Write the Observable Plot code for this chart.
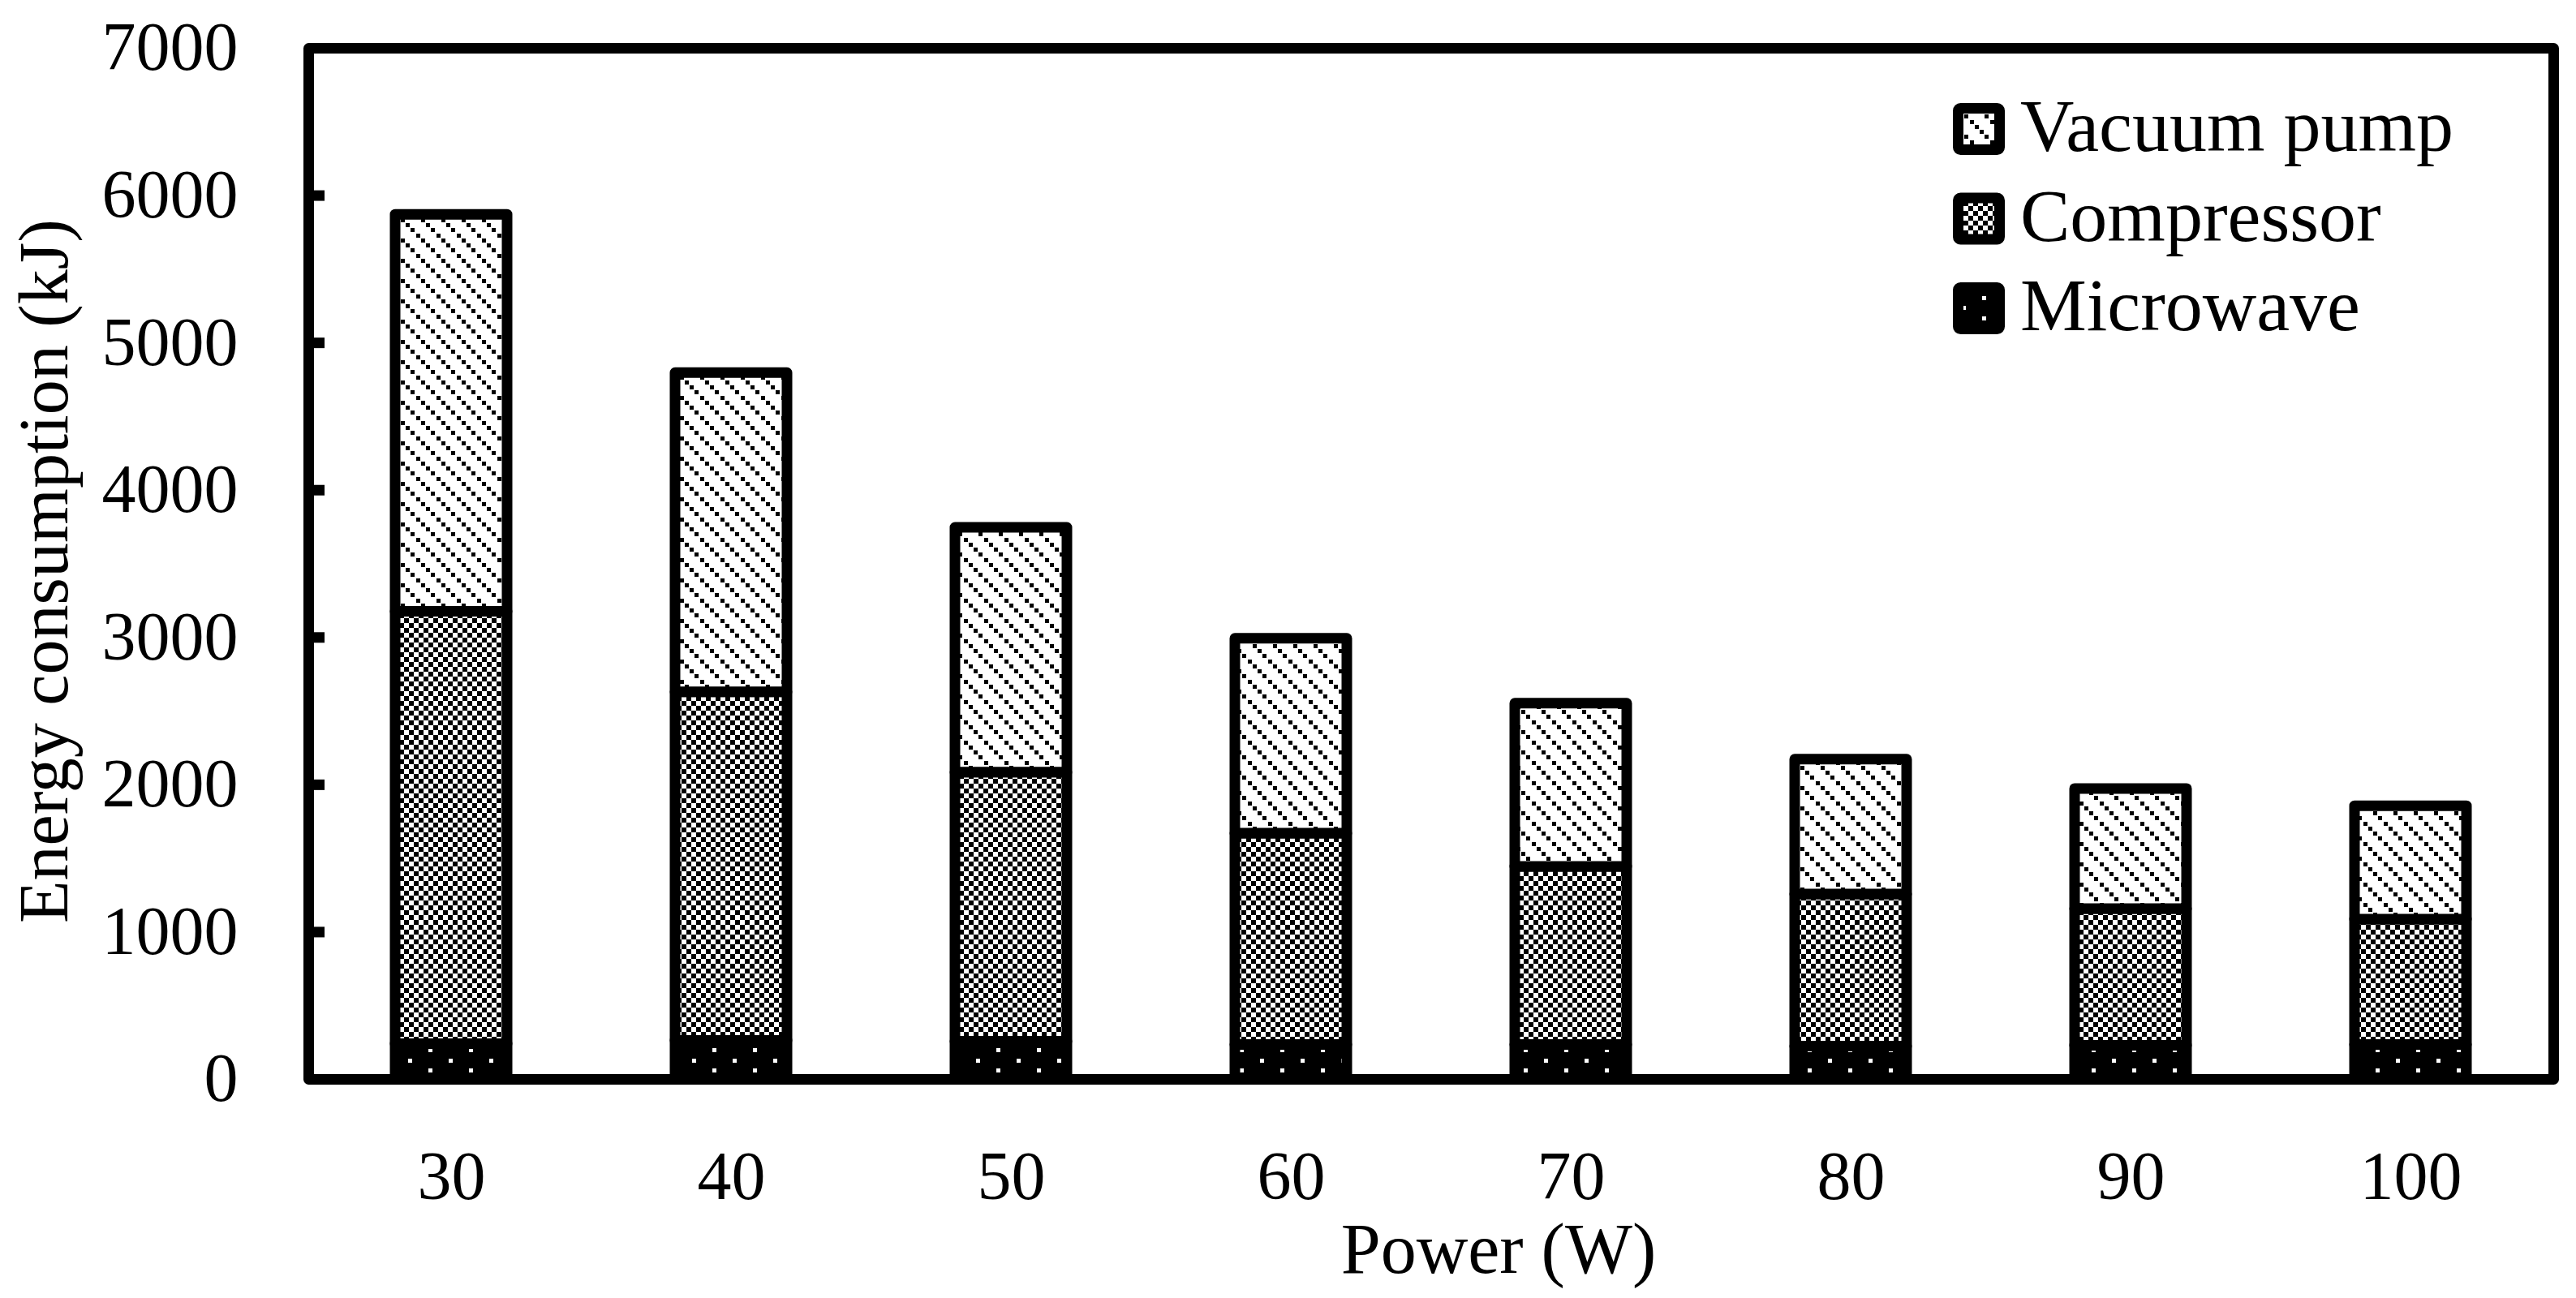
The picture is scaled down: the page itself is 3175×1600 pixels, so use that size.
<!DOCTYPE html>
<html>
<head>
<meta charset="utf-8">
<script src="https://cdn.jsdelivr.net/npm/d3@7"></script>
<script src="https://cdn.jsdelivr.net/npm/@observablehq/plot@0.6"></script>
<style>
  html, body { margin: 0; padding: 0; background: #fff; }
  #wrap { position: relative; width: 3175px; height: 1600px; font-family: "Liberation Serif", "Times New Roman", serif; }
  #legend { position: absolute; left: 2390px; top: 110px; overflow: visible; }
</style>
</head>
<body>
<svg width="0" height="0" style="position:absolute">
  <defs>
    <pattern id="pVac" patternUnits="userSpaceOnUse" width="25" height="25">
      <rect width="25" height="25" fill="#fff"/>
      <rect x="0" y="0" width="5" height="5" fill="#000" shape-rendering="crispEdges"/>
      <rect x="6" y="6" width="5" height="5" fill="#000" shape-rendering="crispEdges"/>
      <rect x="13" y="13" width="5" height="5" fill="#000" shape-rendering="crispEdges"/>
      <rect x="19" y="19" width="5" height="5" fill="#000" shape-rendering="crispEdges"/>
    </pattern>
    <pattern id="pComp" patternUnits="userSpaceOnUse" width="12" height="12">
      <rect width="12" height="12" fill="#fff"/>
      <rect x="0" y="0" width="6" height="6" fill="#000" shape-rendering="crispEdges"/>
      <rect x="6" y="6" width="6" height="6" fill="#000" shape-rendering="crispEdges"/>
    </pattern>
    <pattern id="pMicro" patternUnits="userSpaceOnUse" width="50" height="25">
      <rect width="50" height="25" fill="#000"/>
      <rect x="3" y="5" width="5" height="5" fill="#fff" shape-rendering="crispEdges"/>
      <rect x="28" y="17" width="5" height="5" fill="#fff" shape-rendering="crispEdges"/>
    </pattern>
  </defs>
</svg>
<div id="wrap"></div>
<script>
// ---- data ----
const powers = [30, 40, 50, 60, 70, 80, 90, 100];
const microwave = [240, 262, 256, 234, 234, 223, 229, 234];
const compressor = [2935, 2366, 1827, 1435, 1209, 1033, 928, 851];
const vacuumPump = [2695, 2167, 1662, 1323, 1108, 915, 815, 770];
const components = ["Vacuum pump", "Compressor", "Microwave"];
const stackOrder = ["Microwave", "Compressor", "Vacuum pump"];
const patternFills = ["url(#pVac)", "url(#pComp)", "url(#pMicro)"];
const yTicks = [0, 1000, 2000, 3000, 4000, 5000, 6000, 7000];
const xTitle = "Power (W)";
const yTitle = "Energy consumption (kJ)";

const seriesValues = {"Vacuum pump": vacuumPump, "Compressor": compressor, "Microwave": microwave};
const rows = [];
powers.forEach((p, i) => {
  for (const c of stackOrder) rows.push({power: p, component: c, value: seriesValues[c][i]});
});

const FONT = '"Liberation Serif", "Times New Roman", serif';

const chart = Plot.plot({
  width: 3175,
  height: 1600,
  marginLeft: 380,
  marginRight: 28,
  marginTop: 59,
  marginBottom: 270,
  style: {fontFamily: FONT, fontSize: "84px", color: "#000", background: "#fff", overflow: "visible"},
  x: {domain: powers, paddingInner: 0.6, paddingOuter: 0.3, label: null},
  y: {domain: [0, 7000], label: null},
  color: {domain: components, range: patternFills},
  marks: [
    Plot.barY(rows, {
      x: "power", y: "value", fill: "component", order: stackOrder,
      stroke: "#000", strokeWidth: 13, strokeLinejoin: "round"
    }),
    Plot.frame({stroke: "#000", strokeWidth: 13, strokeLinejoin: "round"}),
    Plot.axisY({ticks: yTicks, tickSize: 0, tickPadding: 87, fontSize: 84, tickFormat: d => String(d), label: null}),
    Plot.axisY({ticks: yTicks, tickSize: -20, text: null, strokeWidth: 13, label: null}),
    Plot.axisX({tickSize: 0, tickPadding: 88, fontSize: 84, label: null}),
    Plot.text([yTitle], {frameAnchor: "left", textAnchor: "middle", lineAnchor: "middle", rotate: -90, dx: -325, dy: 9, fontSize: 86, fill: "#000"}),
    Plot.text([xTitle], {frameAnchor: "bottom", textAnchor: "middle", lineAnchor: "middle", dx: 83, dy: 210, fontSize: 88, fill: "#000"})
  ]
});
const wrap = document.getElementById("wrap");
wrap.appendChild(chart);

// ---- legend ----
const ns = "http://www.w3.org/2000/svg";
const leg = document.createElementNS(ns, "svg");
leg.setAttribute("id", "legend");
leg.setAttribute("width", "760");
leg.setAttribute("height", "330");
components.forEach((c, i) => {
  const r = document.createElementNS(ns, "rect");
  r.setAttribute("x", 23.5);
  r.setAttribute("y", 23.5 + i * 110.5);
  r.setAttribute("width", 51);
  r.setAttribute("height", 51);
  r.setAttribute("rx", 3);
  r.setAttribute("fill", patternFills[i]);
  r.setAttribute("stroke", "#000");
  r.setAttribute("stroke-width", 13);
  r.setAttribute("stroke-linejoin", "round");
  leg.appendChild(r);
  const t = document.createElementNS(ns, "text");
  t.setAttribute("x", 100);
  t.setAttribute("y", 76 + i * 110.5);
  t.setAttribute("font-size", 92);
  t.setAttribute("font-family", FONT);
  t.setAttribute("fill", "#000");
  t.textContent = c;
  leg.appendChild(t);
});
wrap.appendChild(leg);
</script>
</body>
</html>
